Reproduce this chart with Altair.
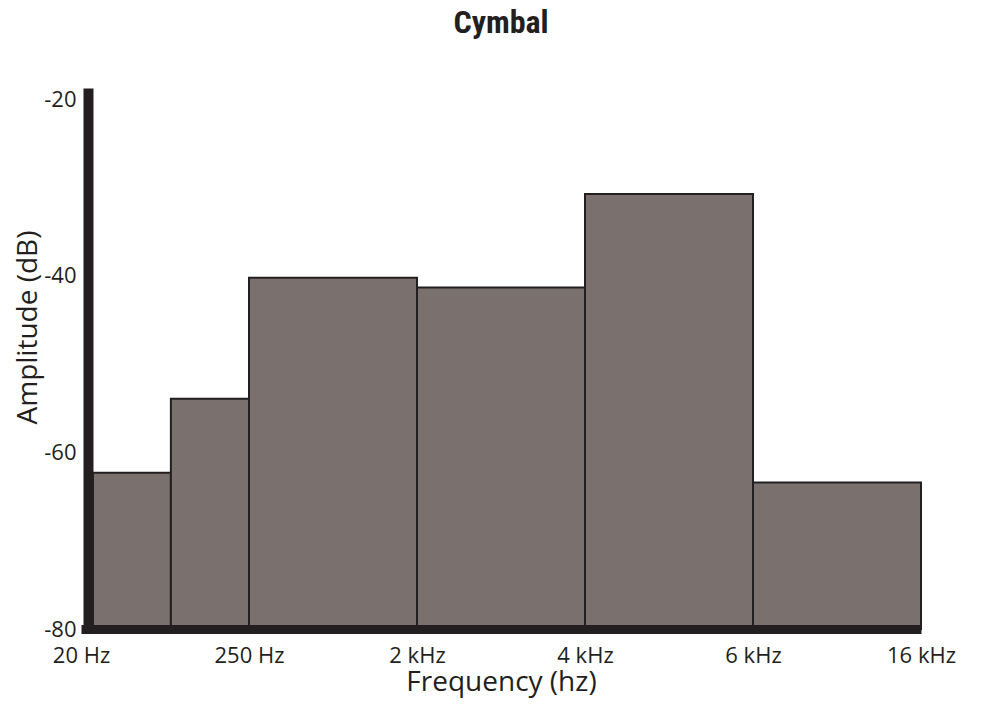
import altair as alt
import pandas as pd

# Frequency bands (positions on an evenly spaced band axis)
band_start = [0.071, 0.535, 1, 2, 3, 4]
band_end = [0.535, 1, 2, 3, 4, 5]
amplitude_db = [-62.3, -53.9, -40.2, -41.3, -30.7, -63.4]

tick_positions = [0, 1, 2, 3, 4, 5]
tick_labels = ["20 Hz", "250 Hz", "2 kHz", "4 kHz", "6 kHz", "16 kHz"]
y_ticks = [-80, -60, -40, -20]

df = pd.DataFrame({"start": band_start, "end": band_end, "amp": amplitude_db})

label_array = "[" + ",".join("'" + t + "'" for t in tick_labels) + "]"

INK = "#231f20"
FONT = "Open Sans"

chart = (
    alt.Chart(df)
    .mark_rect(fill="#7a716e", stroke=INK, strokeWidth=2)
    .encode(
        x=alt.X(
            "start:Q",
            scale=alt.Scale(domain=[0, 5], nice=False, zero=False),
            axis=alt.Axis(
                title="Frequency (hz)",
                values=tick_positions,
                labelExpr=label_array + "[datum.value]",
                grid=False,
                ticks=False,
                tickSize=0,
                domainColor=INK,
                domainWidth=9,
                labelFont=FONT,
                labelFontSize=22,
                labelColor=INK,
                labelBaseline="alphabetic",
                labelPadding=33,
                labelFlush=False,
                labelOverlap=False,
                labelBound=False,
                titleFont=FONT,
                titleFontSize=28,
                titleFontWeight="normal",
                titleColor=INK,
                titleBaseline="alphabetic",
                titleY=61,
                zindex=1,
            ),
        ),
        x2="end:Q",
        y=alt.Y(
            "amp:Q",
            scale=alt.Scale(domain=[-80, -18.7], nice=False, zero=False),
            axis=alt.Axis(
                title="Amplitude (dB)",
                values=y_ticks,
                labelExpr="'' + datum.value",
                grid=False,
                ticks=False,
                tickSize=0,
                offset=-7,
                domainColor=INK,
                domainWidth=10,
                labelFont=FONT,
                labelFontSize=22,
                labelColor=INK,
                labelPadding=12,
                labelOverlap=False,
                labelBound=False,
                labelFlush=False,
                titleFont=FONT,
                titleFontSize=28,
                titleFontWeight="normal",
                titleColor=INK,
                titleAngle=270,
                titleBaseline="alphabetic",
                titleAlign="center",
                titleX=-52,
                titleY=239,
                zindex=1,
            ),
        ),
        y2=alt.Y2(datum=-80),
    )
    .properties(
        width=840,
        height=541,
        autosize=alt.AutoSizeParams(type="none"),
        padding={"left": 73, "top": 80, "right": 45, "bottom": 69},
        title=alt.TitleParams(
            "Cymbal",
            font="Roboto Condensed, Roboto, sans-serif",
            fontSize=32,
            fontWeight="bold",
            color=INK,
            anchor="middle",
            baseline="alphabetic",
            offset=23,
        ),
    )
    .configure_view(stroke=None)
)

chart.save("out.html", embed_options={"renderer": "svg", "actions": False})
